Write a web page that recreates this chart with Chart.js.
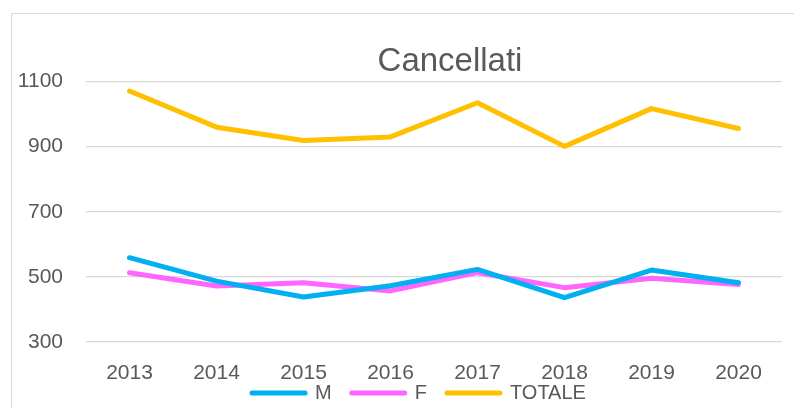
<!DOCTYPE html>
<html>
<head>
<meta charset="utf-8">
<script src="https://cdn.jsdelivr.net/npm/chart.js@4/dist/chart.umd.min.js"></script>
<style>
  html, body { margin: 0; padding: 0; background: #fff; width: 794px; height: 408px; overflow: hidden; }
  #box { position: absolute; left: 11px; top: 13px; width: 876px; height: 435px; border: 1px solid #D9D9D9; }
  #chart { display: block; }
</style>
</head>
<body>
<div id="box"><canvas id="chart" width="876" height="435"></canvas></div>
<script>
// Data
const anni = ['2013', '2014', '2015', '2016', '2017', '2018', '2019', '2020'];
const maschi = [559, 487, 438, 473, 523, 436, 521, 482];
const femmine = [513, 472, 482, 457, 513, 467, 496, 477];
const totale = [1071, 960, 919, 930, 1035, 901, 1017, 956];
const yTicks = [300, 500, 700, 900, 1100];

const grigio = '#595959';
const font = 'Liberation Sans, Arial, sans-serif';

function serie(label, data, color) {
    return {
        label: label,
        data: data,
        borderColor: color,
        backgroundColor: color,
        borderWidth: 5,
        borderCapStyle: 'round',
        borderJoinStyle: 'round',
        pointRadius: 0,
        pointHoverRadius: 0,
        tension: 0,
        fill: false
    };
}

// titolo e legenda posizionati come nell'originale (Excel)
const boxShift = {
    id: 'boxShift',
    afterLayout(chart) {
        chart.titleBlock.left += 51;
        chart.titleBlock.right += 51;
        chart.legend.left += 20;
        chart.legend.right += 20;
        chart.legend.top -= 24;
        chart.legend.bottom -= 24;
    }
};

new Chart(document.getElementById('chart'), {
    type: 'line',
    data: {
        labels: anni,
        datasets: [
            serie('M', maschi, '#00B0F0'),
            serie('F', femmine, '#FF66FF'),
            serie('TOTALE', totale, '#FFC000')
        ]
    },
    options: {
        responsive: false,
        animation: false,
        layout: { padding: { left: 4, right: 106, top: 0, bottom: 12 } },
        scales: {
            x: {
                offset: true,
                grid: { display: false, drawTicks: false },
                border: { display: false },
                ticks: { color: grigio, font: { family: font, size: 21 }, padding: 19, maxRotation: 0 },
                afterFit(scale) { scale.height = 45; }
            },
            y: {
                min: 300,
                max: 1100,
                afterBuildTicks(scale) { scale.ticks = yTicks.map(v => ({ value: v })); },
                grid: { color: '#D9D9D9', lineWidth: 1.3, drawTicks: false },
                border: { display: false },
                ticks: {
                    color: grigio,
                    font: { family: font, size: 21 },
                    padding: 23,
                    callback: v => String(v)
                },
                afterFit(scale) { scale.width = 70; }
            }
        },
        plugins: {
            title: {
                display: true,
                text: 'Cancellati',
                color: grigio,
                font: { family: font, size: 33, weight: 'normal' },
                padding: { top: 28, bottom: 0 }
            },
            legend: {
                position: 'bottom',
                labels: {
                    color: grigio,
                    font: { family: font, size: 20 },
                    usePointStyle: true,
                    pointStyle: 'line',
                    pointStyleWidth: 53,
                    padding: 20,
                    generateLabels(chart) {
                        const items = Chart.defaults.plugins.legend.labels.generateLabels(chart);
                        return items.map(it => {
                            const ds = chart.data.datasets[it.datasetIndex];
                            it.strokeStyle = ds.borderColor;
                            it.fillStyle = ds.borderColor;
                            it.lineWidth = 5;
                            it.lineCap = 'round';
                            return it;
                        });
                    }
                }
            },
            tooltip: { enabled: false }
        }
    },
    plugins: [boxShift]
});
</script>
</body>
</html>
